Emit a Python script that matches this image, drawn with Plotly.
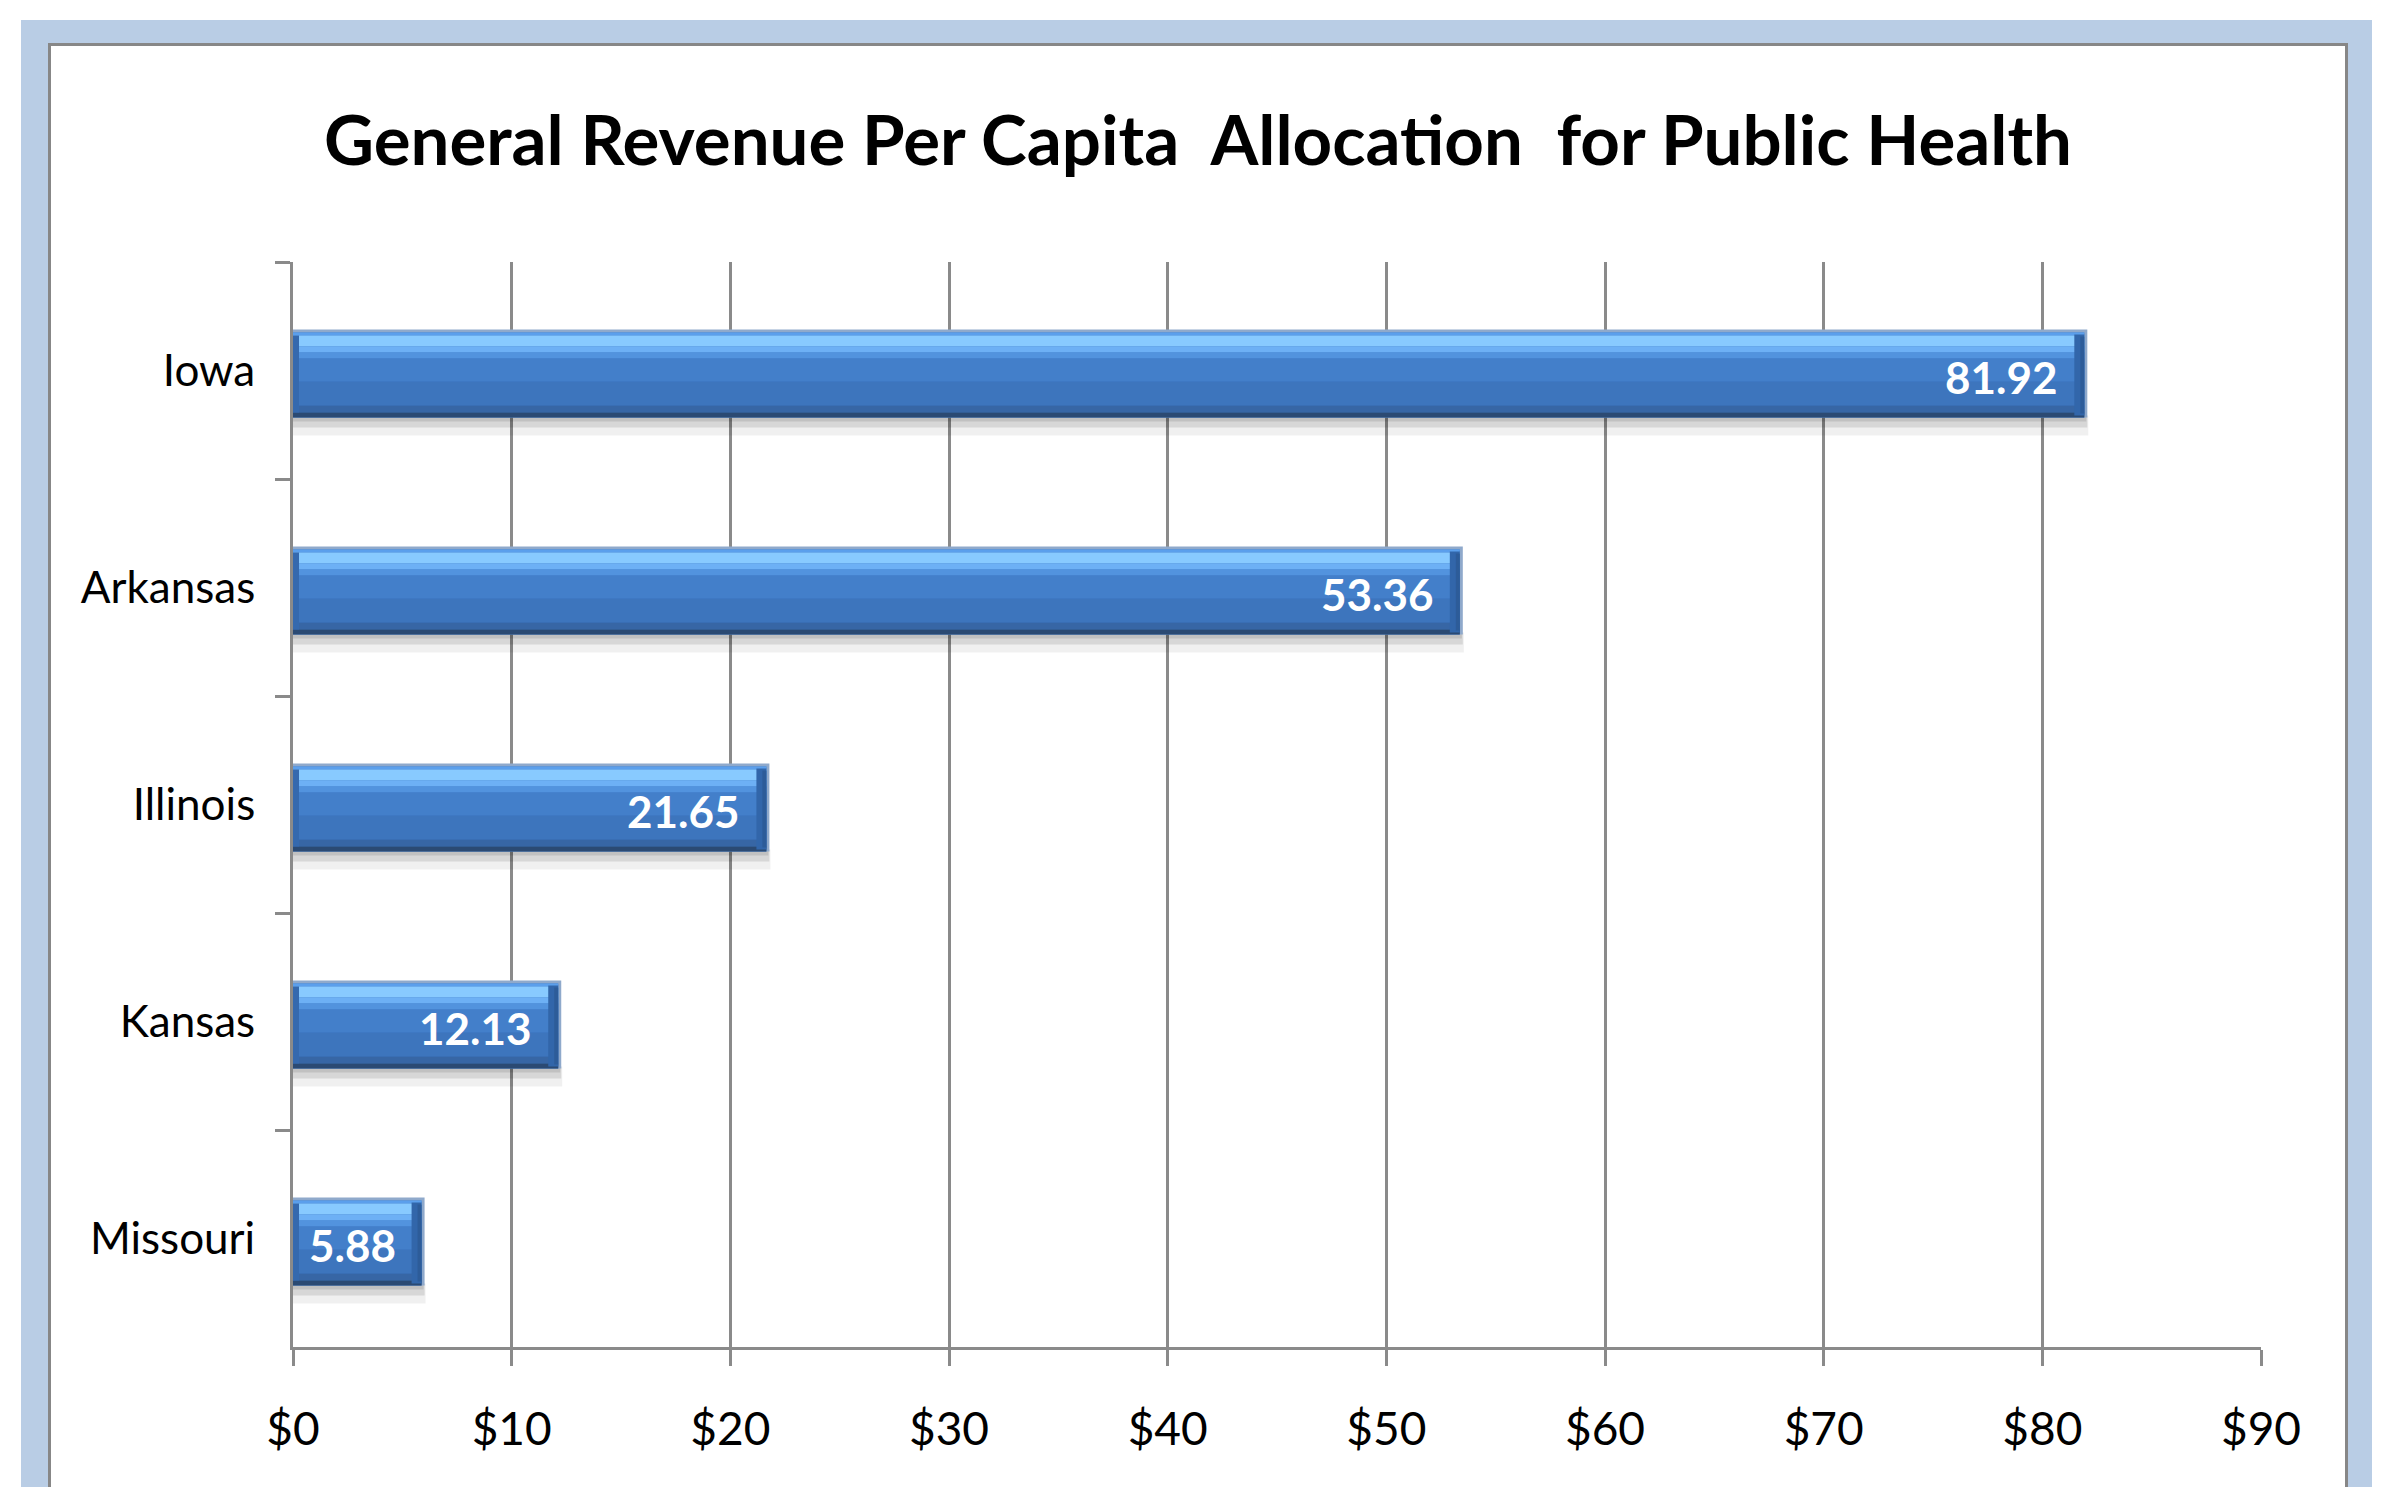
import plotly.graph_objects as go

# ---- data ----
states = ["Iowa", "Arkansas", "Illinois", "Kansas", "Missouri"]
revenue = [81.92, 53.36, 21.65, 12.13, 5.88]
value_labels = ["81.92", "53.36", "21.65", "12.13", "5.88"]
x_ticks = [0, 10, 20, 30, 40, 50, 60, 70, 80, 90]
x_tick_labels = ["$" + str(t) for t in x_ticks]
title_text = "General Revenue Per Capita  Allocation  for Public Health"

# ---- geometry (pixels) ----
W, H = 2389, 1487
L, R, T, B = 293, 2389 - 2261, 262, 1487 - 1347
PW, PH = W - L - R, H - T - B
FONT = "Lato"

cat_px = PH / len(states)          # pixels per category
u = 1.0 / cat_px                   # category units per pixel
bar_px = 88
shift_px = 3
x_per_px = 90.0 / PW               # data units per pixel

fig = go.Figure()


def strip(top, bot, color, right_px=None, left_px=None, ext_px=0):
    off = -0.5 * bar_px * u + (top + shift_px) * u
    wid = (bot - top) * u
    if right_px is not None:
        xs = [right_px * x_per_px for _ in revenue]
        base = [v - right_px * x_per_px + ext_px * x_per_px for v in revenue]
    elif left_px is not None:
        xs = [left_px * x_per_px for _ in revenue]
        base = [0 for _ in revenue]
    else:
        xs = [v + ext_px * x_per_px for v in revenue]
        base = [0 for _ in revenue]
    fig.add_trace(go.Bar(
        y=states, x=xs, base=base, orientation="h",
        offset=off, width=wid,
        marker=dict(color=color, line=dict(width=0)),
        hoverinfo="skip", showlegend=False,
    ))


# shadow below the bar
strip(86, 106, "rgba(0,0,0,0.06)", ext_px=4)
strip(86, 98, "rgba(0,0,0,0.10)", ext_px=3)
strip(86, 92, "rgba(0,0,0,0.10)", ext_px=2)
# outline / body
strip(0, 88, "#8FA9CB", ext_px=3)
strip(3, 88, "#3E7BC6")
strip(3, 6, "#5B9FEC")
strip(6, 17, "#88CAFF")
strip(17, 23, "#6DB0F5")
strip(23, 29, "#5293DE")
strip(29, 52, "#437FCA")
strip(52, 76, "#3D75BD")
strip(76, 83, "#3766A5")
strip(83, 88, "#2B4A73")
# end bevels
strip(6, 83, "#3569AE", left_px=6)
strip(5, 86, "#3266AA", right_px=10)
strip(7, 84, "#2D5C99", right_px=4)

# value labels inside the bar end
for s, v, t in zip(states, revenue, value_labels):
    fig.add_annotation(
        x=v, y=s, xref="x", yref="y", text="<b>" + t + "</b>",
        showarrow=False, xanchor="right", yanchor="middle",
        xshift=-24, yshift=-6,
        font=dict(family=FONT, size=44, color="white"),
    )


def px_x(x):
    return (x - L) / PW


def px_y(y):
    return (H - B - y) / PH


# outer blue frame and inner white panel
fig.add_shape(type="rect", xref="paper", yref="paper", layer="below",
              x0=px_x(21), x1=px_x(2372), y0=px_y(1500), y1=px_y(20),
              fillcolor="#B9CDE5", line=dict(width=0))
fig.add_shape(type="rect", xref="paper", yref="paper", layer="below",
              x0=px_x(49.5), x1=px_x(2346.5), y0=px_y(1540), y1=px_y(44.5),
              fillcolor="white", line=dict(color="#878787", width=3))

fig.update_layout(
    width=W, height=H,
    margin=dict(l=L, r=R, t=T, b=B, autoexpand=False),
    paper_bgcolor="white",
    plot_bgcolor="rgba(0,0,0,0)",
    barmode="overlay",
    showlegend=False,
    font=dict(family=FONT, color="black"),
    title=dict(
        text="<b>" + title_text + "</b>",
        x=1198 / W, xref="container", xanchor="center",
        y=1 - 141 / H, yref="container", yanchor="middle",
        font=dict(family=FONT, size=69, color="black"),
    ),
    xaxis=dict(
        range=[0, 90], tickmode="array", tickvals=x_ticks, ticktext=x_tick_labels,
        showgrid=True, gridcolor="#8A8A8A", gridwidth=2.5,
        showline=True, linecolor="#8A8A8A", linewidth=3,
        ticks="outside", ticklen=16, tickwidth=3, tickcolor="#8A8A8A",
        tickfont=dict(family=FONT, size=46, color="black"),
        ticklabelstandoff=24,
        zeroline=False, fixedrange=True,
    ),
    yaxis=dict(
        type="category", categoryorder="array", categoryarray=states,
        autorange="reversed",
        showgrid=False,
        showline=True, linecolor="#8A8A8A", linewidth=3,
        ticks="outside", ticklen=15, tickwidth=3, tickcolor="#8A8A8A",
        tickson="boundaries",
        tickfont=dict(family=FONT, size=44, color="black"),
        ticklabelstandoff=26,
        zeroline=False, fixedrange=True,
    ),
)

fig.write_html(
    "out.html",
    config={"displayModeBar": False},
    post_script="document.body.style.margin='0';document.body.style.overflow='hidden';",
)
